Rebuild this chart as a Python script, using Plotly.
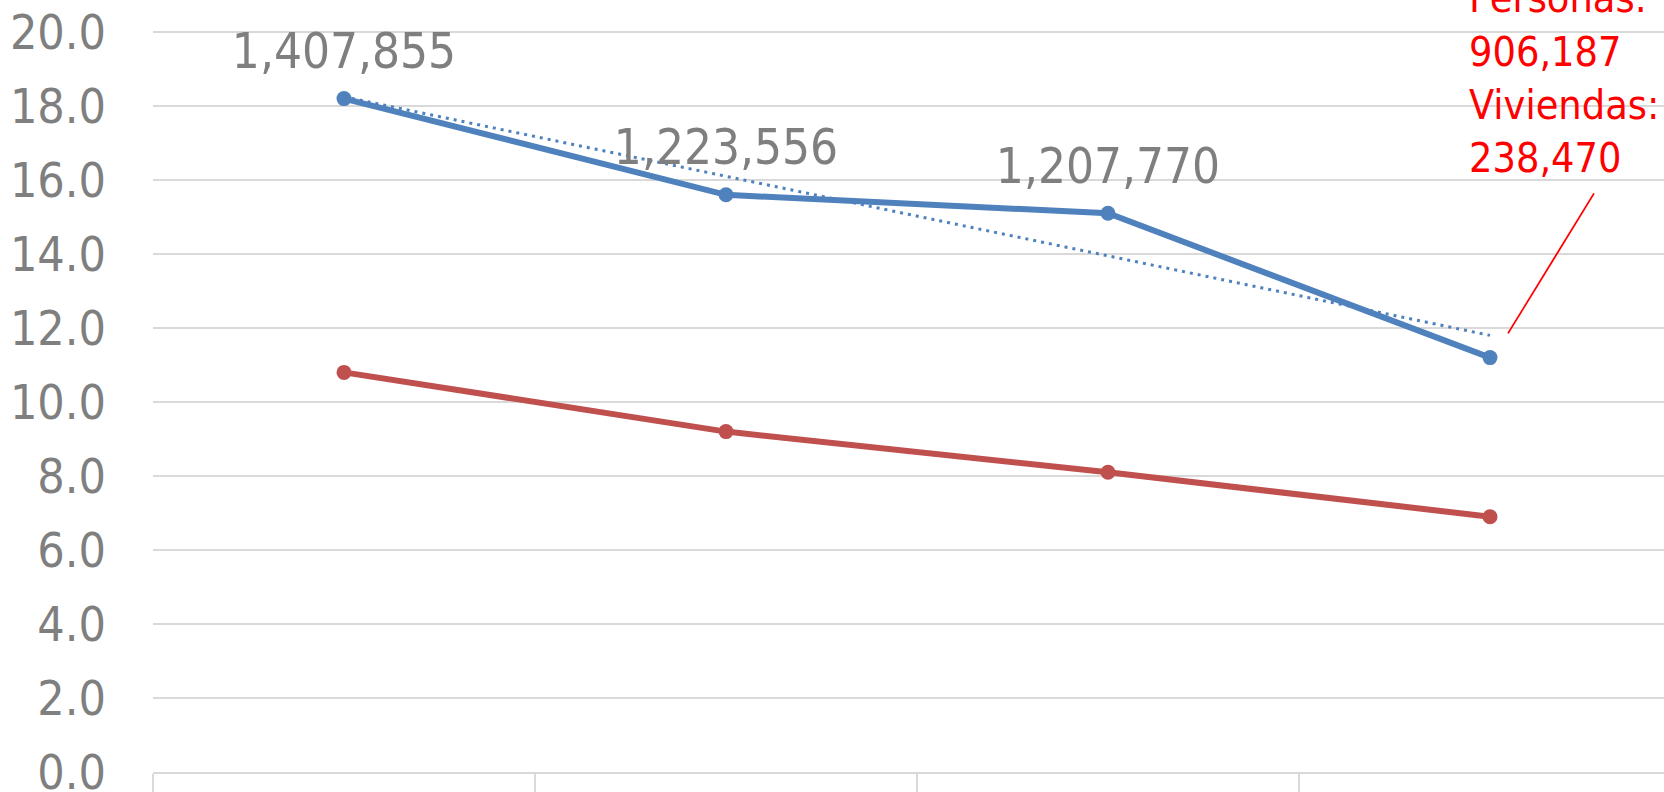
import numpy as np
import plotly.graph_objects as go

years = ["2010", "2012", "2014", "2016"]
personas_pct = [18.2, 15.6, 15.1, 11.2]
viviendas_pct = [10.8, 9.2, 8.1, 6.9]
personas_abs = [1407855, 1223556, 1207770, 906187]
viviendas_2016 = 238470

BLUE = "#4F81BD"
RED = "#C0504D"
GRAY = "#7F7F7F"
GRID = "#D9D9D9"
FONT = "DejaVu Sans Condensed"

# layout scale (pixels per axis unit) used to place label offsets
PLOT_L, PLOT_W, PLOT_H = 153, 1511, 772
PX_X = 382.0                      # px per category step
Y_TOP = 20 + 32 / 37
PX_Y = PLOT_H / Y_TOP             # px per y unit

xi = list(range(len(years)))
# Excel-style linear trendline for the blue series
slope, intercept = np.polyfit(xi, personas_pct, 1)
trend = [float(intercept + slope * i) for i in xi]

fig = go.Figure()
fig.add_trace(go.Scatter(x=xi, y=personas_pct, mode="lines+markers",
                         line=dict(color=BLUE, width=6),
                         marker=dict(color=BLUE, size=15), showlegend=False, hoverinfo="skip"))
fig.add_trace(go.Scatter(x=xi, y=viviendas_pct, mode="lines+markers",
                         line=dict(color=RED, width=6),
                         marker=dict(color=RED, size=15), showlegend=False, hoverinfo="skip"))
fig.add_trace(go.Scatter(x=xi, y=trend, mode="lines",
                         line=dict(color=BLUE, width=3, dash="3px,5px"),
                         showlegend=False, hoverinfo="skip"))

# data labels above the first three blue points
fig.add_trace(go.Scatter(x=xi[:3], y=[v + 43 / PX_Y for v in personas_pct[:3]],
                         mode="text", text=[f"{n:,}" for n in personas_abs[:3]],
                         textposition="middle center",
                         textfont=dict(family=FONT, size=49, color=GRAY),
                         showlegend=False, hoverinfo="skip"))

# red callout for 2016 (anchor placed so the 4 lines sit at the top right)
callout_x = xi[3] - 21 / PX_X
callout_y = (PLOT_H - 82) / PX_Y
fig.add_trace(go.Scatter(x=[callout_x], y=[callout_y], mode="text",
                         text=[f"Personas:<br>{personas_abs[3]:,}<br>Viviendas:<br>{viviendas_2016:,}"],
                         textposition="middle right",
                         textfont=dict(family=FONT, size=41, color="#FF0000"),
                         showlegend=False, hoverinfo="skip"))
# leader line from the trendline end up to the callout
fig.add_trace(go.Scatter(x=[xi[3] + 18 / PX_X, xi[3] + 104 / PX_X],
                         y=[trend[3] + 2 / PX_Y, trend[3] + 142 / PX_Y],
                         mode="lines", line=dict(color="#FF0000", width=1.8),
                         showlegend=False, hoverinfo="skip"))

fig.update_layout(
    width=1664, height=792,
    margin=dict(l=PLOT_L, r=0, t=0, b=792 - PLOT_H, autoexpand=False),
    paper_bgcolor="white", plot_bgcolor="white",
    font=dict(family=FONT, color=GRAY),
)
fig.update_xaxes(range=[-0.5, -0.5 + PLOT_W / PX_X], automargin=False,
                 tickmode="array", tickvals=xi, ticktext=years,
                 showgrid=False, zeroline=False,
                 showline=True, linecolor=GRID, linewidth=1.5,
                 ticks="outside", ticklen=22, tickcolor="rgba(0,0,0,0)",
                 minor=dict(tickmode="array", tickvals=[i - 0.5 for i in xi] + [len(xi) - 0.5],
                            ticks="outside", ticklen=22, tickcolor=GRID, tickwidth=1.5,
                            showgrid=False),
                 tickfont=dict(family=FONT, size=48, color=GRAY),
                 ticklabelstandoff=-7, ticklabeloverflow="allow")
fig.update_yaxes(range=[0, Y_TOP], dtick=2, tick0=0, tickformat=".1f",
                 automargin=False,
                 showgrid=True, gridcolor=GRID, gridwidth=1.5, zeroline=False,
                 showline=False, ticks="", ticklabelstandoff=46,
                 ticklabeloverflow="allow",
                 tickfont=dict(family=FONT, size=48, color=GRAY))

fig.write_html("out.html", config={"displayModeBar": False},
               post_script="document.body.style.margin='0';document.body.style.overflow='hidden';")
